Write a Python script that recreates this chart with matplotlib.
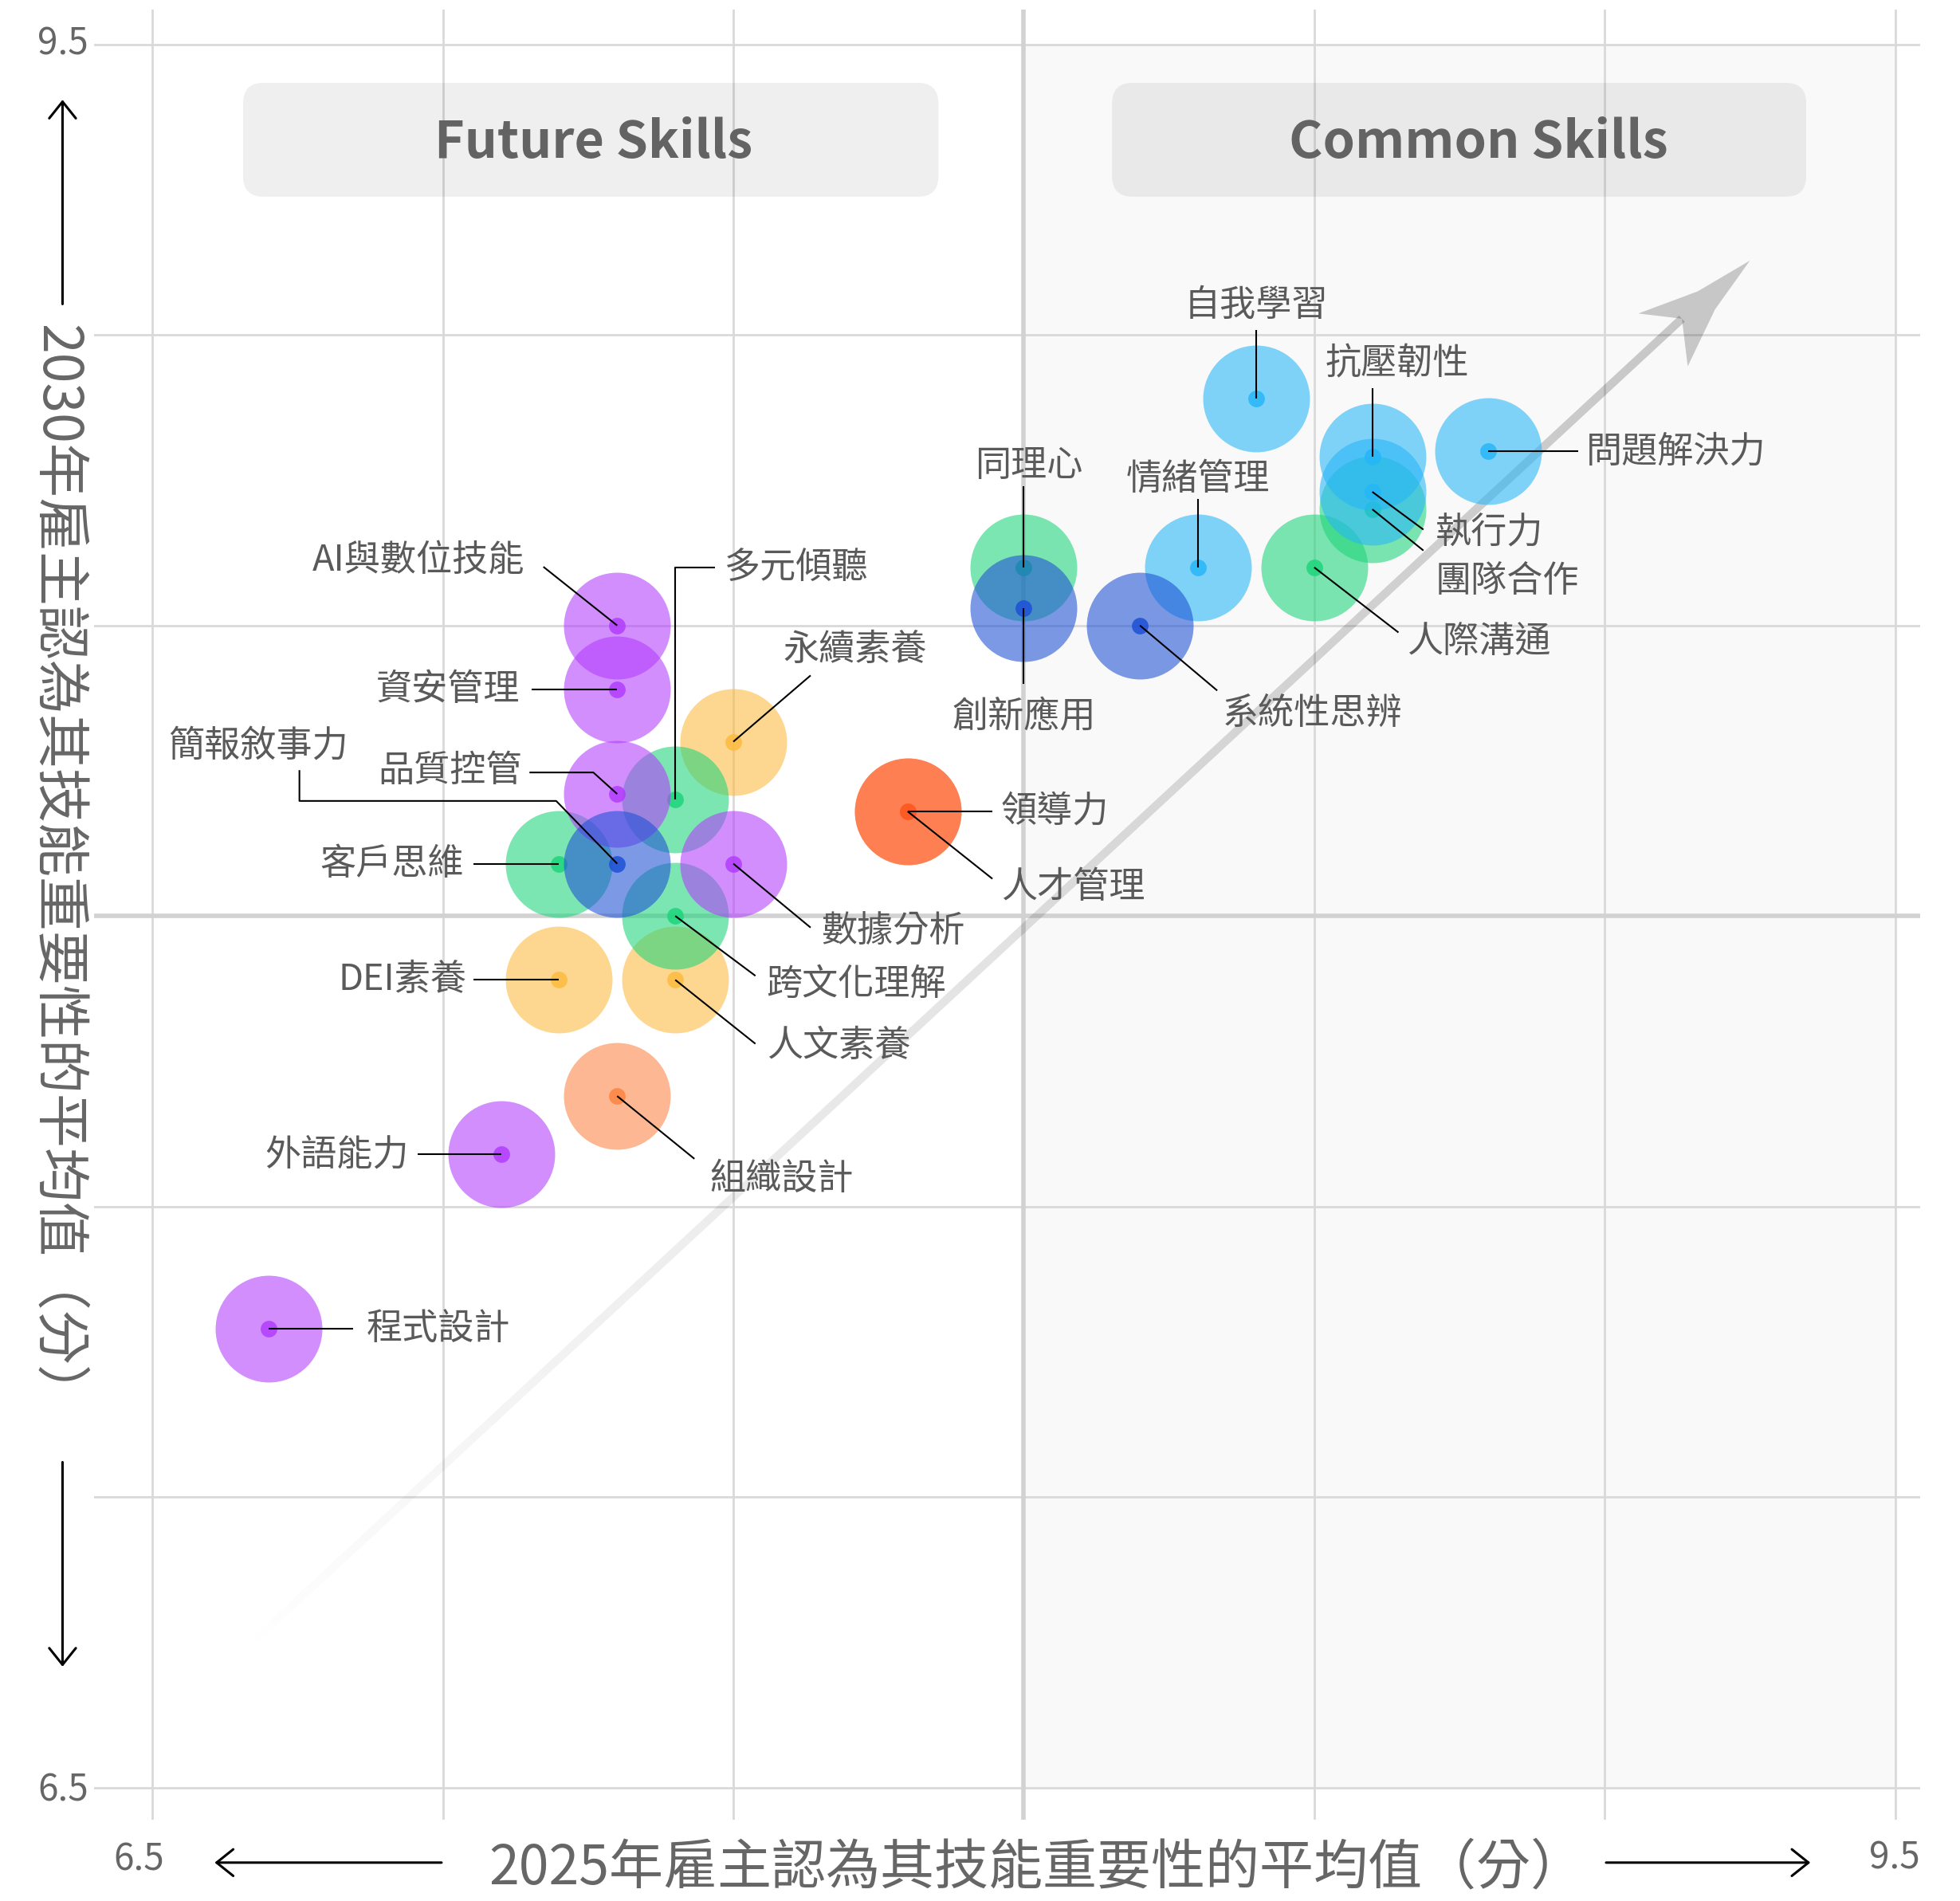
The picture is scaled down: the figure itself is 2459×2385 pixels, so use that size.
import matplotlib
matplotlib.use("Agg")
import matplotlib.pyplot as plt
from matplotlib.patches import FancyBboxPatch, Rectangle, Polygon, FancyArrowPatch
from matplotlib.collections import LineCollection
import numpy as np

plt.rcParams['font.family'] = ['Noto Sans CJK TC', 'DejaVu Sans']

# ---- data ----
skills = ['程式設計', '外語能力', '組織設計', 'DEI素養', '人文素養', '跨文化理解',
          '數據分析', '客戶思維', '簡報敘事力', '品質控管', '多元傾聽', '永續素養',
          '資安管理', 'AI與數位技能', '人才管理', '領導力', '同理心', '創新應用',
          '系統性思辨', '情緒管理', '人際溝通', '自我學習', '抗壓韌性', '執行力',
          '團隊合作', '問題解決力']
score_2025 = [6.70, 7.10, 7.30, 7.20, 7.40, 7.40,
              7.50, 7.20, 7.30, 7.30, 7.40, 7.50,
              7.30, 7.30, 7.80, 7.80, 8.00, 8.00,
              8.20, 8.30, 8.50, 8.40, 8.60, 8.60,
              8.60, 8.80]
score_2030 = [7.29, 7.59, 7.69, 7.89, 7.89, 8.00,
              8.09, 8.09, 8.09, 8.21, 8.20, 8.30,
              8.39, 8.50, 8.18, 8.18, 8.60, 8.53,
              8.50, 8.60, 8.60, 8.89, 8.79, 8.73,
              8.70, 8.80]
groups = ['purple', 'purple', 'salmon', 'orange', 'orange', 'green',
          'purple', 'green', 'blue', 'purple', 'green', 'orange',
          'purple', 'purple', 'salmon', 'red', 'green', 'blue',
          'blue', 'sky', 'green', 'sky', 'sky', 'sky',
          'green', 'sky']
axis_ticks = [6.5, 7.0, 7.5, 8.0, 8.5, 9.0, 9.5]
quadrant_titles = ['Future Skills', 'Common Skills']
xlabel = '2025年雇主認為其技能重要性的平均值（分）'
ylabel = '2030年雇主認為其技能重要性的平均值（分）'

# ---- styles ----
colors = {'purple': '#b23cfd', 'green': '#1ed57b', 'orange': '#fdbb3f',
          'salmon': '#fc8443', 'red': '#ff5722', 'sky': '#26b6f7',
          'blue': '#1e50d5'}
draw_order = ['orange', 'salmon', 'red', 'green', 'sky', 'purple', 'blue']

# label layout: text offset (dx, dy), alignment, leader line points (offsets)
layout = {
    '程式設計': (0.168, 0.0, 'left', [(0.146, 0.0)]),
    '外語能力': (-0.159, 0.0, 'right', [(-0.144, 0.0)]),
    '組織設計': (0.159, -0.142, 'left', [(0.133, -0.108)]),
    'DEI素養': (-0.159, 0.0, 'right', [(-0.148, 0.0)]),
    '人文素養': (0.158, -0.114, 'left', [(0.138, -0.110)]),
    '跨文化理解': (0.156, -0.118, 'left', [(0.138, -0.103)]),
    '數據分析': (0.152, -0.116, 'left', [(0.133, -0.110)]),
    '客戶思維': (-0.164, 0.0, 'right', [(-0.148, 0.0)]),
    '簡報敘事力': (-0.618, 0.202, 'center',
              [(-0.105, 0.108), (-0.547, 0.108), (-0.547, 0.161)]),
    '品質控管': (-0.164, 0.040, 'right', [(-0.041, 0.037), (-0.151, 0.037)]),
    '資安管理': (-0.168, 0.0, 'right', [(-0.147, 0.0)]),
    'AI與數位技能': (-0.159, 0.112, 'right', [(-0.127, 0.101)]),
    '多元傾聽': (0.084, 0.400, 'left', [(0.0, 0.400), (0.069, 0.400)]),
    '永續素養': (0.210, 0.159, 'center', [(0.133, 0.114)]),
    '領導力': (0.161, 0.0, 'left', [(0.146, 0.0)]),
    '人才管理': (0.161, -0.131, 'left', [(0.146, -0.116)]),
    '同理心': (0.009, 0.176, 'center', [(0.0, 0.140)]),
    '創新應用': (0.0, -0.187, 'center', [(0.0, -0.131)]),
    '情緒管理': (0.0, 0.152, 'center', [(0.0, 0.118)]),
    '自我學習': (0.0, 0.162, 'center', [(0.0, 0.118)]),
    '抗壓韌性': (0.043, 0.160, 'center', [(0.0, 0.118)]),
    '問題解決力': (0.168, 0.0, 'left', [(0.154, 0.0)]),
    '執行力': (0.108, -0.071, 'left', [(0.088, -0.065)]),
    '團隊合作': (0.108, -0.123, 'left', [(0.088, -0.071)]),
    '人際溝通': (0.160, -0.129, 'left', [(0.145, -0.112)]),
    '系統性思辨': (0.142, -0.151, 'left', [(0.133, -0.112)]),
}

fig = plt.figure(figsize=(24.59, 23.85), dpi=100)
ax = fig.add_axes([0.04815, 0.04293, 0.93148, 0.952])
ax.set_xlim(6.4, 9.543)
ax.set_ylim(6.445, 9.56)
for s in ax.spines.values():
    s.set_visible(False)
ax.set_xticks(axis_ticks)
ax.set_yticks(axis_ticks)
ax.tick_params(length=0, labelbottom=False, labelleft=False)
ax.set_axisbelow(True)
ax.grid(True, color='#d9d9d9', lw=2.0)
ax.axvline(8.0, color='#d2d2d2', lw=4, zorder=0.8)
ax.axhline(8.0, color='#d2d2d2', lw=4, zorder=0.8)

# shaded common-skills half
ax.add_patch(Rectangle((8.0, 6.5), 1.5, 3.0, fc='#f9f9f9', ec='none', zorder=0))

# quadrant title boxes
for (x0, w, tx), title in zip([(6.656, 1.197, 7.259), (8.152, 1.195, 8.783)],
                              quadrant_titles):
    ax.add_patch(FancyBboxPatch((x0, 9.238), w, 0.196,
                                boxstyle='round,pad=0,rounding_size=0.035',
                                fc=(0, 0, 0, 0.063), ec='none', zorder=3))
    ax.text(tx, 9.331, title, ha='center', va='center', fontsize=46.5,
            fontweight='bold', color='#636363', zorder=4)

# diagonal trend arrow (fading shaft)
p0 = np.array([6.645, 6.725])
p1 = np.array([9.133, 9.028])
n = 80
pts = p0 + (p1 - p0) * np.linspace(0, 1, n + 1)[:, None]
segs = np.stack([pts[:-1], pts[1:]], axis=1)
alphas = np.linspace(0.0, 0.2, n) ** 0.9 * 0.2 / 0.2 ** 0.9
ax.add_collection(LineCollection(segs, colors=[(0, 0, 0, a) for a in alphas],
                                 linewidths=7.5, capstyle='butt', zorder=2))
head = [(9.250, 9.128), (9.160, 9.075), (9.058, 9.037), (9.133, 9.028),
        (9.143, 8.946), (9.190, 9.044)]
ax.add_patch(Polygon(head, closed=True, fc=(0, 0, 0, 0.2), ec='none', zorder=2))

# bubbles
xs = np.array(score_2025)
ys = np.array(score_2030)
g = np.array(groups)
for k, grp in enumerate(draw_order):
    m = g == grp
    ax.scatter(xs[m], ys[m], s=9300, color=colors[grp], alpha=0.58,
               linewidths=0, zorder=5 + k * 0.1)
    ax.scatter(xs[m], ys[m], s=225, color=colors[grp], alpha=0.85,
               linewidths=0, zorder=5 + k * 0.1 + 0.05)

# leader lines and labels
for name, x, y in zip(skills, score_2025, score_2030):
    tdx, tdy, ha, path = layout[name]
    px = [x] + [x + dx for dx, dy in path]
    py = [y] + [y + dy for dx, dy in path]
    ax.plot(px, py, color='black', lw=1.5, zorder=10, solid_capstyle='butt')
    ax.text(x + tdx, y + tdy, name, ha=ha, va='center', fontsize=32.5,
            color='#5a5a5a', zorder=11)

# axis titles, corner tick labels, direction arrows
fig.text(0.529, 0.0169, xlabel, ha='center', va='center', fontsize=49,
         fontweight='medium', color='#666666')
fig.text(0.0287, 0.541, ylabel, ha='center', va='center', fontsize=49,
         fontweight='medium', color='#666666', rotation=270)
for tx, ty, lab in [(0.0321, 0.977, '9.5'), (0.0321, 0.0583, '6.5'),
                    (0.0708, 0.0218, '6.5'), (0.9666, 0.0226, '9.5')]:
    fig.text(tx, ty, lab, ha='center', va='center', fontsize=33, color='#666666')

for a, b in [((0.0319, 0.8389), (0.0319, 0.9487)),
             ((0.0319, 0.2320), (0.0319, 0.1221)),
             ((0.2264, 0.0202), (0.1084, 0.0202)),
             ((0.8183, 0.0202), (0.9248, 0.0202))]:
    fig.add_artist(FancyArrowPatch(a, b, transform=fig.transFigure,
                                   arrowstyle='->,head_length=0.5,head_width=0.4',
                                   mutation_scale=30, lw=2.2, color='black'))

fig.savefig('out.png', dpi=100)
